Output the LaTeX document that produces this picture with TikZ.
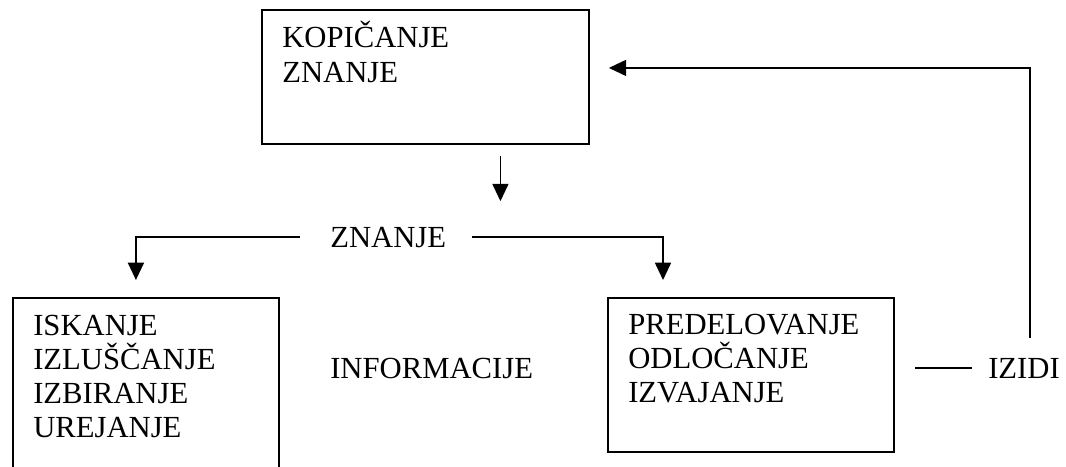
\documentclass[tikz,border=0pt]{standalone}
\usepackage{fontspec}
\setmainfont{Liberation Serif}
\usetikzlibrary{positioning,arrows.meta}

\begin{document}
\begin{tikzpicture}[x=0.75pt,y=-0.75pt,
      font=\fontsize{23}{25.5}\selectfont,
      box/.style={draw,line width=1.4pt,inner sep=0pt},
      lbl/.style={inner sep=0pt,anchor=base west,align=left},
      ar/.style={-{Triangle[length=13pt,width=12pt]},line width=1.3pt},
      ln/.style={line width=1.3pt}]

    \clip (0,0) rectangle (1066,467);

    % boxes
    \node[box,anchor=north west,minimum width=245.25pt,minimum height=100.5pt] (kop) at (261,9) {};
    \node[box,anchor=north west,minimum width=199.5pt,minimum height=150pt] (lbox) at (12,297) {};
    \node[box,anchor=north west,minimum width=214.5pt,minimum height=115.5pt] (rbox) at (607,297) {};

    % texts (base = last line)
    \node[lbl] (kopt) at (282,82) {KOPIČANJE\\ZNANJE};
    \node[lbl] (zn) at (330,247) {ZNANJE};
    \node[lbl] (lboxt) at (33,437) {ISKANJE\\IZLUŠČANJE\\IZBIRANJE\\UREJANJE};
    \node[lbl] (inf) at (330,378) {INFORMACIJE};
    \node[lbl] (rboxt) at (628,402) {PREDELOVANJE\\ODLOČANJE\\IZVAJANJE};
    \node[lbl] (iz) at (988,378) {IZIDI};

    % connectors
    \draw[ar,shorten <=8pt,shorten >=19pt] ([xshift=56.25pt]kop.south) -- ([xshift=56.25pt]kop.south |- zn.north);
    \draw[ar,shorten <=22.5pt] (zn.west) -| ([xshift=-7.5pt,yshift=12.75pt]lbox.north);
    \draw[ar,shorten <=19pt] (zn.east) -| ([xshift=42pt,yshift=12.75pt]rbox.north west);
    \draw[ln,shorten <=15pt,shorten >=12pt] (rbox.east |- iz.west) -- (iz.west);
    \draw[ar] ([xshift=4.5pt,yshift=15pt]iz.north) |- ([xshift=14.25pt,yshift=6.75pt]kop.east);
  \end{tikzpicture}
\end{document}
